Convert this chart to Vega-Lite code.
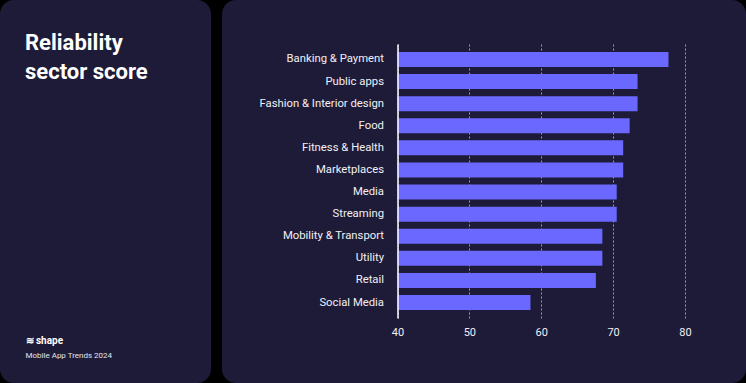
{
  "$schema": "https://vega.github.io/schema/vega-lite/v6.json",
  "background": "#000000",
  "padding": 0,
  "spacing": 11,
  "config": {
    "view": {"fill": "#1e1b38", "stroke": null, "cornerRadius": 14},
    "font": "Roboto",
    "axis": {"labelFont": "Roboto", "titleFont": "Roboto"}
  },
  "hconcat": [
    {
      "width": 211,
      "height": 383,
      "data": {"values": [{"k": 0}]},
      "title": {"text": ["Reliability", "sector score"], "orient": "top", "anchor": "start", "frame": "group", "offset": -84, "dx": 25, "fontSize": 22, "fontWeight": "bold", "color": "#ffffff", "lineHeight": 29, "font": "Roboto"},
      "mark": {"type": "point", "opacity": 0},
      "encoding": {
        "x": {"field": "k", "type": "quantitative", "axis": {"orient": "bottom", "domain": false, "ticks": false, "labels": false, "grid": false, "title": "Mobile App Trends 2024", "titleX": 25, "titleY": -28, "titleAlign": "left", "titleBaseline": "middle", "titleFontSize": 8, "titleFontWeight": "normal", "titleColor": "#e4e4ee"}},
        "y": {"field": "k", "type": "quantitative", "axis": {"orient": "left", "domain": false, "ticks": false, "labels": false, "grid": false, "title": "≋ shape", "titleAngle": 0, "titleX": 25, "titleY": 340, "titleAlign": "left", "titleBaseline": "middle", "titleFontSize": 10, "titleFontWeight": "bold", "titleColor": "#ffffff"}}
      }
    },
    {
      "width": 524,
      "height": 383,
      "data": {"values": [
        {"sector": "Banking & Payment", "score": 77.7},
        {"sector": "Public apps", "score": 73.4},
        {"sector": "Fashion & Interior design", "score": 73.4},
        {"sector": "Food", "score": 72.3},
        {"sector": "Fitness & Health", "score": 71.4},
        {"sector": "Marketplaces", "score": 71.4},
        {"sector": "Media", "score": 70.5},
        {"sector": "Streaming", "score": 70.5},
        {"sector": "Mobility & Transport", "score": 68.5},
        {"sector": "Utility", "score": 68.5},
        {"sector": "Retail", "score": 67.6},
        {"sector": "Social Media", "score": 58.5}
      ]},
      "mark": {"type": "bar", "color": "#6b68ff"},
      "encoding": {
        "y": {"field": "sector", "type": "nominal", "sort": null,
          "scale": {"range": [44, 318], "paddingInner": 0.32, "paddingOuter": 0.36},
          "axis": {"orient": "left", "offset": -175.5, "title": null, "ticks": false, "domainColor": "#ffffff", "domainWidth": 1.5, "labelPadding": 14, "labelFontSize": 11.3, "labelColor": "#f0f0f5", "grid": false, "zindex": 1}},
        "x": {"field": "score", "type": "quantitative",
          "scale": {"domain": [40, 80], "range": [175.5, 463], "nice": false, "zero": false},
          "axis": {"orient": "top", "offset": -336, "values": [40, 50, 60, 70, 80], "title": null, "domain": false, "ticks": false, "labelPadding": 1, "labelBaseline": "alphabetic", "labelFlush": false, "labelFontSize": 11, "labelColor": "#f0f0f5", "grid": true, "gridColor": "#9a98b8", "gridDash": [2, 2], "gridWidth": 1}},
        "x2": {"datum": 40}
      }
    }
  ]
}
